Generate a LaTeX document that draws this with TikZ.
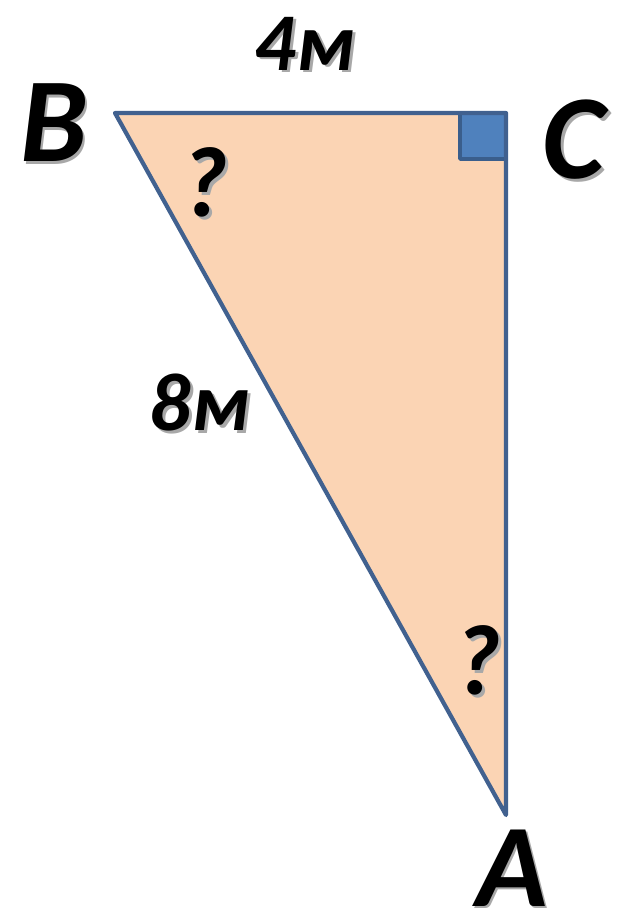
\documentclass[tikz,border=0pt]{standalone}
\usepackage{fontspec}
\setmainfont{Carlito}
\definecolor{edge}{HTML}{41618F}
\definecolor{peach}{HTML}{FBD4B4}
\definecolor{sqfill}{HTML}{4F81BD}
\definecolor{sqedge}{HTML}{3A5E8C}
\definecolor{shade}{HTML}{A8A8A8}
\tikzset{
  lbl/.style={font=\bfseries\itshape\fontsize{#1}{#1}\selectfont, inner sep=0pt, text=black},
}
\newcommand{\shtext}[1]{\rlap{\kern2.5pt\raisebox{-2.5pt}{\textcolor{shade}{#1}}}#1}
\begin{document}
\begin{tikzpicture}[x=1pt,y=-1pt]
\useasboundingbox (0,0) rectangle (616,915);
\coordinate (B) at (115,113);
\coordinate (C) at (506,113);
\coordinate (A) at (506,815);
\fill[peach] (B) -- (C) -- (A) -- cycle;
\draw[sqedge, fill=sqfill, line width=3.5pt, line join=round] (460,113) rectangle (506,159);
\draw[edge, line width=4.2pt, line join=round, line cap=round] (B) -- (C) -- (A) -- cycle;
\node[lbl=82] (l4) at (305,45) {\shtext{4м}};
\node[lbl=120] (lB) at (54,124) {\shtext{B}};
\node[lbl=120] (lC) at (574,141) {\shtext{C}};
\node[lbl=100] (q1) at (205,184) {\shtext{?}};
\node[lbl=82] (l8) at (200,404) {\shtext{8м}};
\node[lbl=100] (q2) at (478,662) {\shtext{?}};
\node[lbl=118] (lA) at (512,869) {\shtext{A}};
\end{tikzpicture}
\end{document}
